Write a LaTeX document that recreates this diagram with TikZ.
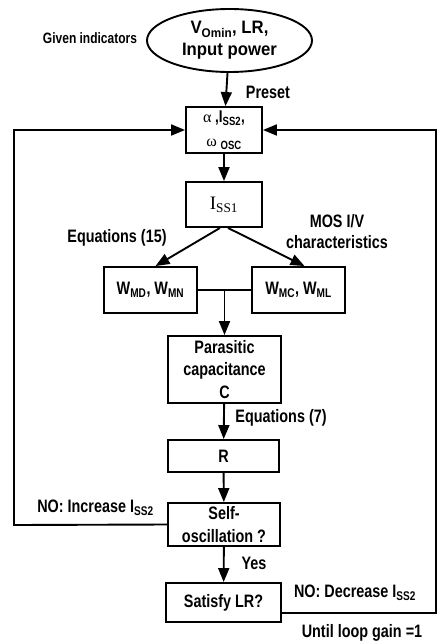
\documentclass[tikz,border=0pt]{standalone}
\usepackage{fontspec}
\setmainfont{Liberation Sans}[FakeStretch=0.8]
\newfontfamily\ovalfont{Liberation Sans}[FakeStretch=0.93]
\newfontfamily\serifface{Liberation Serif}
\usetikzlibrary{shapes.geometric,arrows.meta}
\newcommand{\sbs}[1]{\textsubscript{#1}}

\begin{document}
\begin{tikzpicture}[x=1pt, y=-1pt,
  every node/.style = {font=\bfseries\fontsize{18}{22.5}\selectfont, align=center},
  box/.style = {draw, line width=1.9pt, inner sep=0pt},
  link/.style = {line width=1.9pt, -{Triangle[length=14pt,width=11pt]}}]
  \useasboundingbox (0,0) rectangle (437,642);
  % blocks
  \node[box, ellipse, minimum width=165pt, minimum height=63pt,
    font=\ovalfont\bfseries\fontsize{18}{22}\selectfont] (ind) at (229.5,40.5)
    {V\sbs{Omin}, LR,\\Input power};
  \node[box, minimum width=76pt, minimum height=46pt,
    font=\bfseries\fontsize{17}{24}\selectfont] (preset) at (224,130)
    {{\serifface\mdseries\fontsize{16}{16}\selectfont α} ,I\sbs{SS2},\\
     {\serifface\mdseries\fontsize{16}{16}\selectfont ω} \sbs{OSC}};
  \node[box, minimum width=76pt, minimum height=45pt,
    font=\serifface\fontsize{19}{20}\selectfont] (iss1) at (224,204.5) {I\sbs{SS1}};
  \node[box, minimum width=93pt, minimum height=46pt] (wmd) at (150.5,290) {W\sbs{MD}, W\sbs{MN}};
  \node[box, minimum width=93pt, minimum height=46pt] (wmc) at (298.5,290) {W\sbs{MC}, W\sbs{ML}};
  \node[box, minimum width=113pt, minimum height=67pt] (para) at (224.5,369.5)
    {Parasitic\\capacitance\\C};
  \node[box, minimum width=111pt, minimum height=32pt] (rbox) at (223.5,456) {R};
  \node[box, minimum width=112pt, minimum height=43pt] (self) at (224,524.5)
    {Self-\\oscillation ?};
  \node[box, minimum width=115pt, minimum height=39pt] (lr) at (223.5,602.5) {Satisfy LR?};
  % labels
  \node[font=\bfseries\fontsize{15}{18}\selectfont] (given) at (90,38) {Given indicators};
  \node (presetlbl) at (268,92) {Preset};
  \node (eq15) at (117,238) {Equations (15)};
  \node[font=\bfseries\fontsize{18}{20.5}\selectfont] (mos) at (337,231.5) {MOS I/V\\characteristics};
  \node (eq7) at (281,418) {Equations (7)};
  \node (inc) at (95.5,508) {NO: Increase I\sbs{SS2}};
  \node (yes) at (254,563) {Yes};
  \node (dec) at (355,593) {NO: Decrease I\sbs{SS2}};
  \node (until) at (362,633) {Until loop gain =1};
  % connectors
  \coordinate (lft) at (14,525);
  \coordinate (rgt) at (436,613);
  \draw[link] (ind) -- (preset);
  \draw[link] (preset) -- (iss1);
  \draw[link] ([xshift=-4pt]iss1.south) -- ([xshift=5pt]wmd.north);
  \draw[link] ([xshift=4pt]iss1.south) -- ([xshift=6pt]wmc.north);
  \draw[line width=1.9pt] (wmd.east) -- (wmc.west);
  \draw[link] (wmd.east -| para.north) -- (para.north);
  \draw[link] (para) -- (rbox);
  \draw[link] (rbox) -- (self);
  \draw[link] (self) -- (lr);
  \draw[link] (self.west) -- (lft) |- (preset.west);
  \draw[link] (lr.east |- rgt) -- (rgt) |- (preset.east);
\end{tikzpicture}
\end{document}
